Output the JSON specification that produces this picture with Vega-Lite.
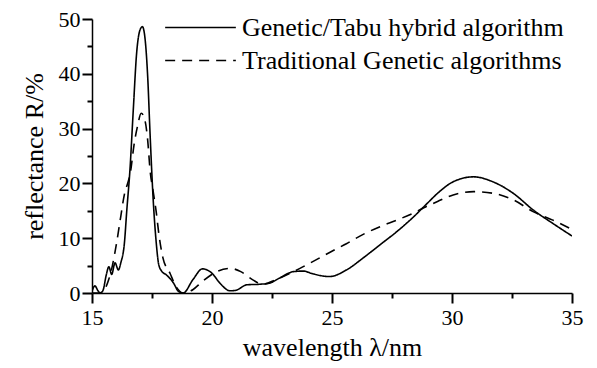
{
  "$schema": "https://vega.github.io/schema/vega-lite/v6.json",
  "width": 480,
  "height": 274,
  "autosize": {"type": "none"},
  "padding": {"left": 92, "top": 19, "right": 25, "bottom": 75},
  "background": "white",
  "config": {
    "view": {"stroke": null},
    "style": {
      "guide-label": {"font": "Liberation Serif", "fontSize": 22, "fill": "black"},
      "guide-title": {"font": "Liberation Serif", "fontSize": 26, "fill": "black"}
    },
    "axis": {
      "ticks": true,
      "domain": true,
      "grid": false,
      "tickColor": "black",
      "tickOpacity": 1,
      "tickWidth": 2,
      "domainColor": "black",
      "domainWidth": 1.5,
      "labelColor": "black",
      "labelFont": "Liberation Serif",
      "titleColor": "black",
      "titleFont": "Liberation Serif",
      "titleFontSize": 26,
      "titleFontWeight": "normal",
      "labelFontSize": 22,
      "labelFlush": false,
      "labelOverlap": false
    },
    "legend": {
      "labelFont": "Liberation Serif",
      "labelFontSize": 26,
      "labelColor": "black"
    }
  },
  "data": {
    "values": [
      {"x": 15.0, "y": 0.3, "s": "Genetic/Tabu hybrid algorithm"},
      {"x": 15.12, "y": 1.3, "s": "Genetic/Tabu hybrid algorithm"},
      {"x": 15.25, "y": 0.4, "s": "Genetic/Tabu hybrid algorithm"},
      {"x": 15.35, "y": 0.0, "s": "Genetic/Tabu hybrid algorithm"},
      {"x": 15.46, "y": 0.5, "s": "Genetic/Tabu hybrid algorithm"},
      {"x": 15.6, "y": 3.4, "s": "Genetic/Tabu hybrid algorithm"},
      {"x": 15.7, "y": 4.8, "s": "Genetic/Tabu hybrid algorithm"},
      {"x": 15.82, "y": 3.4, "s": "Genetic/Tabu hybrid algorithm"},
      {"x": 15.96, "y": 5.5, "s": "Genetic/Tabu hybrid algorithm"},
      {"x": 16.1, "y": 4.2, "s": "Genetic/Tabu hybrid algorithm"},
      {"x": 16.2, "y": 5.5, "s": "Genetic/Tabu hybrid algorithm"},
      {"x": 16.35, "y": 9.1, "s": "Genetic/Tabu hybrid algorithm"},
      {"x": 16.45, "y": 15.1, "s": "Genetic/Tabu hybrid algorithm"},
      {"x": 16.58, "y": 22.4, "s": "Genetic/Tabu hybrid algorithm"},
      {"x": 16.72, "y": 33.4, "s": "Genetic/Tabu hybrid algorithm"},
      {"x": 16.86, "y": 43.8, "s": "Genetic/Tabu hybrid algorithm"},
      {"x": 17.0, "y": 48.0, "s": "Genetic/Tabu hybrid algorithm"},
      {"x": 17.1, "y": 48.6, "s": "Genetic/Tabu hybrid algorithm"},
      {"x": 17.2, "y": 46.8, "s": "Genetic/Tabu hybrid algorithm"},
      {"x": 17.32, "y": 39.5, "s": "Genetic/Tabu hybrid algorithm"},
      {"x": 17.42, "y": 29.0, "s": "Genetic/Tabu hybrid algorithm"},
      {"x": 17.55, "y": 17.0, "s": "Genetic/Tabu hybrid algorithm"},
      {"x": 17.67, "y": 9.5, "s": "Genetic/Tabu hybrid algorithm"},
      {"x": 17.78, "y": 5.2, "s": "Genetic/Tabu hybrid algorithm"},
      {"x": 17.9, "y": 4.0, "s": "Genetic/Tabu hybrid algorithm"},
      {"x": 18.1, "y": 3.3, "s": "Genetic/Tabu hybrid algorithm"},
      {"x": 18.4, "y": 1.8, "s": "Genetic/Tabu hybrid algorithm"},
      {"x": 18.6, "y": 0.3, "s": "Genetic/Tabu hybrid algorithm"},
      {"x": 18.8, "y": 0.0, "s": "Genetic/Tabu hybrid algorithm"},
      {"x": 19.2, "y": 2.4, "s": "Genetic/Tabu hybrid algorithm"},
      {"x": 19.6, "y": 4.4, "s": "Genetic/Tabu hybrid algorithm"},
      {"x": 20.0, "y": 3.6, "s": "Genetic/Tabu hybrid algorithm"},
      {"x": 20.33, "y": 1.8, "s": "Genetic/Tabu hybrid algorithm"},
      {"x": 20.75, "y": 0.4, "s": "Genetic/Tabu hybrid algorithm"},
      {"x": 21.0, "y": 0.5, "s": "Genetic/Tabu hybrid algorithm"},
      {"x": 21.45, "y": 1.5, "s": "Genetic/Tabu hybrid algorithm"},
      {"x": 22.0, "y": 1.6, "s": "Genetic/Tabu hybrid algorithm"},
      {"x": 22.4, "y": 1.8, "s": "Genetic/Tabu hybrid algorithm"},
      {"x": 22.8, "y": 2.7, "s": "Genetic/Tabu hybrid algorithm"},
      {"x": 23.4, "y": 3.9, "s": "Genetic/Tabu hybrid algorithm"},
      {"x": 23.8, "y": 4.0, "s": "Genetic/Tabu hybrid algorithm"},
      {"x": 24.2, "y": 3.5, "s": "Genetic/Tabu hybrid algorithm"},
      {"x": 24.9, "y": 3.0, "s": "Genetic/Tabu hybrid algorithm"},
      {"x": 25.6, "y": 4.2, "s": "Genetic/Tabu hybrid algorithm"},
      {"x": 26.3, "y": 6.4, "s": "Genetic/Tabu hybrid algorithm"},
      {"x": 27.0, "y": 8.8, "s": "Genetic/Tabu hybrid algorithm"},
      {"x": 27.7, "y": 11.2, "s": "Genetic/Tabu hybrid algorithm"},
      {"x": 28.4, "y": 13.9, "s": "Genetic/Tabu hybrid algorithm"},
      {"x": 29.0, "y": 16.5, "s": "Genetic/Tabu hybrid algorithm"},
      {"x": 29.4, "y": 18.2, "s": "Genetic/Tabu hybrid algorithm"},
      {"x": 30.05, "y": 20.3, "s": "Genetic/Tabu hybrid algorithm"},
      {"x": 30.9, "y": 21.2, "s": "Genetic/Tabu hybrid algorithm"},
      {"x": 31.7, "y": 20.3, "s": "Genetic/Tabu hybrid algorithm"},
      {"x": 32.55, "y": 18.2, "s": "Genetic/Tabu hybrid algorithm"},
      {"x": 33.4, "y": 15.1, "s": "Genetic/Tabu hybrid algorithm"},
      {"x": 34.2, "y": 12.7, "s": "Genetic/Tabu hybrid algorithm"},
      {"x": 35.0, "y": 10.4, "s": "Genetic/Tabu hybrid algorithm"},
      {"x": 15.0, "y": 0.0, "s": "Traditional Genetic algorithms"},
      {"x": 15.3, "y": 0.0, "s": "Traditional Genetic algorithms"},
      {"x": 15.5, "y": 0.5, "s": "Traditional Genetic algorithms"},
      {"x": 15.7, "y": 2.5, "s": "Traditional Genetic algorithms"},
      {"x": 15.85, "y": 5.0, "s": "Traditional Genetic algorithms"},
      {"x": 16.0, "y": 8.5, "s": "Traditional Genetic algorithms"},
      {"x": 16.2, "y": 14.0, "s": "Traditional Genetic algorithms"},
      {"x": 16.35, "y": 18.0, "s": "Traditional Genetic algorithms"},
      {"x": 16.5, "y": 20.2, "s": "Traditional Genetic algorithms"},
      {"x": 16.6, "y": 22.0, "s": "Traditional Genetic algorithms"},
      {"x": 16.75, "y": 27.0, "s": "Traditional Genetic algorithms"},
      {"x": 16.9, "y": 30.5, "s": "Traditional Genetic algorithms"},
      {"x": 17.05, "y": 32.8, "s": "Traditional Genetic algorithms"},
      {"x": 17.2, "y": 31.6, "s": "Traditional Genetic algorithms"},
      {"x": 17.32, "y": 27.9, "s": "Traditional Genetic algorithms"},
      {"x": 17.42, "y": 22.4, "s": "Traditional Genetic algorithms"},
      {"x": 17.55, "y": 18.5, "s": "Traditional Genetic algorithms"},
      {"x": 17.67, "y": 15.0, "s": "Traditional Genetic algorithms"},
      {"x": 17.8, "y": 10.3, "s": "Traditional Genetic algorithms"},
      {"x": 17.95, "y": 6.5, "s": "Traditional Genetic algorithms"},
      {"x": 18.25, "y": 3.6, "s": "Traditional Genetic algorithms"},
      {"x": 18.5, "y": 1.2, "s": "Traditional Genetic algorithms"},
      {"x": 18.8, "y": 0.0, "s": "Traditional Genetic algorithms"},
      {"x": 19.2, "y": 0.6, "s": "Traditional Genetic algorithms"},
      {"x": 19.6, "y": 2.1, "s": "Traditional Genetic algorithms"},
      {"x": 20.2, "y": 3.9, "s": "Traditional Genetic algorithms"},
      {"x": 20.75, "y": 4.5, "s": "Traditional Genetic algorithms"},
      {"x": 21.2, "y": 3.9, "s": "Traditional Genetic algorithms"},
      {"x": 21.7, "y": 2.4, "s": "Traditional Genetic algorithms"},
      {"x": 22.1, "y": 1.6, "s": "Traditional Genetic algorithms"},
      {"x": 22.7, "y": 2.5, "s": "Traditional Genetic algorithms"},
      {"x": 23.4, "y": 3.9, "s": "Traditional Genetic algorithms"},
      {"x": 24.1, "y": 5.5, "s": "Traditional Genetic algorithms"},
      {"x": 24.9, "y": 7.4, "s": "Traditional Genetic algorithms"},
      {"x": 25.6, "y": 9.0, "s": "Traditional Genetic algorithms"},
      {"x": 26.3, "y": 10.7, "s": "Traditional Genetic algorithms"},
      {"x": 27.0, "y": 12.1, "s": "Traditional Genetic algorithms"},
      {"x": 27.7, "y": 13.3, "s": "Traditional Genetic algorithms"},
      {"x": 28.4, "y": 14.6, "s": "Traditional Genetic algorithms"},
      {"x": 28.8, "y": 15.5, "s": "Traditional Genetic algorithms"},
      {"x": 29.4, "y": 16.7, "s": "Traditional Genetic algorithms"},
      {"x": 30.05, "y": 17.9, "s": "Traditional Genetic algorithms"},
      {"x": 30.9, "y": 18.5, "s": "Traditional Genetic algorithms"},
      {"x": 31.7, "y": 18.2, "s": "Traditional Genetic algorithms"},
      {"x": 32.55, "y": 17.0, "s": "Traditional Genetic algorithms"},
      {"x": 33.4, "y": 14.8, "s": "Traditional Genetic algorithms"},
      {"x": 34.2, "y": 13.3, "s": "Traditional Genetic algorithms"},
      {"x": 35.0, "y": 11.6, "s": "Traditional Genetic algorithms"}
    ]
  },
  "resolve": {"axis": {"x": "independent", "y": "independent"}},
  "layer": [
    {
      "mark": {"type": "line", "interpolate": "monotone", "color": "black", "strokeWidth": 1.6, "clip": true},
      "encoding": {
        "x": {
          "field": "x", "type": "quantitative",
          "scale": {"domain": [15, 35], "nice": false, "zero": false},
          "axis": {
            "orient": "bottom",
            "values": [15, 20, 25, 30, 35],
            "ticks": true,
            "tickSize": 10,
            "tickColor": "black",
            "tickOpacity": 1,
            "tickWidth": 2,
            "labelFont": "Liberation Serif",
            "labelFontSize": 22,
            "labelPadding": 4,
            "title": "wavelength λ/nm",
            "titlePadding": 6
          }
        },
        "y": {
          "field": "y", "type": "quantitative",
          "scale": {"domain": [0, 50], "nice": false},
          "axis": {
            "orient": "left",
            "values": [0, 10, 20, 30, 40, 50],
            "ticks": true,
            "tickSize": 10,
            "tickColor": "black",
            "tickOpacity": 1,
            "tickWidth": 2,
            "labelFont": "Liberation Serif",
            "labelFontSize": 22,
            "labelPadding": 2,
            "title": "reflectance R/%",
            "titlePadding": 11
          }
        },
        "strokeDash": {
          "field": "s", "type": "nominal",
          "scale": {"domain": ["Genetic/Tabu hybrid algorithm", "Traditional Genetic algorithms"], "range": [[1, 0], [10, 7]]},
          "legend": {
            "title": null,
            "orient": "none",
            "legendX": 72,
            "legendY": -8,
            "padding": 0,
            "symbolType": "stroke",
            "symbolSize": 5000,
            "symbolStrokeColor": "black",
            "symbolStrokeWidth": 1.6,
            "clipHeight": 33,
            "rowPadding": 0,
            "labelOffset": 5,
            "labelLimit": 0
          }
        }
      }
    },
    {
      "mark": {"type": "line", "opacity": 0},
      "encoding": {
        "x": {
          "field": "x", "type": "quantitative",
          "axis": {"orient": "bottom", "values": [17.5, 22.5, 27.5, 32.5], "labels": false, "domain": false, "ticks": true, "tickSize": 5, "tickColor": "black", "tickOpacity": 1, "tickWidth": 2, "title": null}
        },
        "y": {
          "field": "y", "type": "quantitative",
          "axis": {"orient": "left", "values": [5, 15, 25, 35, 45], "labels": false, "domain": false, "ticks": true, "tickSize": 5, "tickColor": "black", "tickOpacity": 1, "tickWidth": 2, "title": null}
        },
        "detail": {"field": "s"}
      }
    }
  ]
}
